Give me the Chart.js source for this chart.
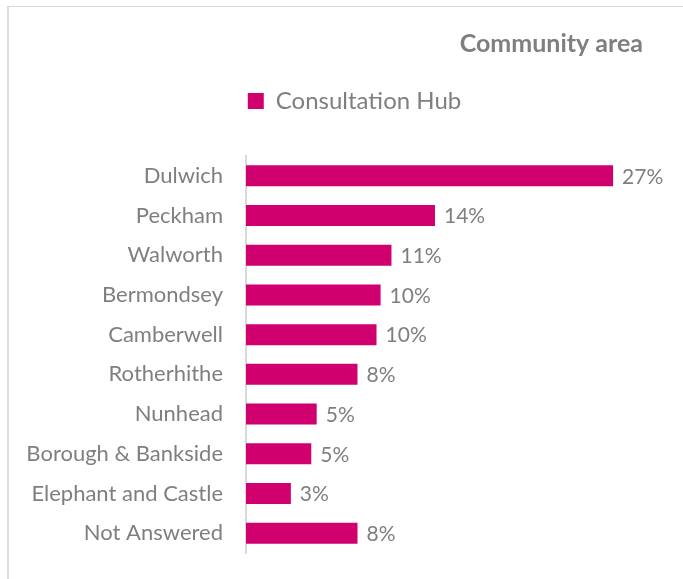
<!DOCTYPE html>
<html>
<head>
<meta charset="utf-8">
<script src="https://cdn.jsdelivr.net/npm/chart.js@4/dist/chart.umd.min.js"></script>
<style>
  html, body { margin: 0; padding: 0; background: #fff; }
  .wrap { position: relative; width: 683px; height: 579px; overflow: hidden; }
  .frame { position: absolute; left: 7px; top: 6px; width: 700px; height: 600px;
           border-top: 1px solid #d9d9d9; border-left: 2px solid #dedede; }
  canvas { position: absolute; left: 0; top: 0; }
</style>
</head>
<body>
<div class="wrap">
  <div class="frame"></div>
  <canvas id="chart" width="683" height="579"></canvas>
</div>
<script>
const areas = ['Dulwich', 'Peckham', 'Walworth', 'Bermondsey', 'Camberwell',
  'Rotherhithe', 'Nunhead', 'Borough & Bankside', 'Elephant and Castle', 'Not Answered']
// share of responses, percent
const hubShare = [27.0, 13.9, 10.7, 9.9, 9.6, 8.2, 5.2, 4.8, 3.3, 8.2]

const FONT = 'Lato, "Open Sans", sans-serif'
const GREY = '#7f7f7f'

// value labels to the right of each bar
var barValues = {
  id: 'barValues',
  afterDatasetsDraw: function (chart) {
    const ctx = chart.ctx
    ctx.save()
    ctx.font = '21px ' + FONT
    ctx.fillStyle = GREY
    ctx.textBaseline = 'middle'
    ctx.textAlign = 'left'
    chart.getDatasetMeta(0).data.forEach((bar, i) => {
      ctx.fillText(Math.round(hubShare[i]) + '%', bar.x + 9, bar.y + 1)
    })
    ctx.restore()
  }
}

// legend: extra room below it and nudged right over the bars
var legendPlace = {
  id: 'legendPlace',
  beforeInit: function (chart) {
    const fit = chart.legend.fit
    chart.legend.fit = function () {
      fit.bind(chart.legend)()
      this.height += 33
    }
  },
  afterLayout: function (chart) {
    chart.legend.left += 28
    chart.legend.right += 28
  }
}

new Chart(document.getElementById('chart').getContext('2d'), {
  type: 'bar',
  data: {
    labels: areas,
    datasets: [{
      label: 'Consultation Hub',
      data: hubShare,
      backgroundColor: '#d0006f',
      borderWidth: 0,
      categoryPercentage: 1,
      barPercentage: 0.53
    }]
  },
  options: {
    indexAxis: 'y',
    responsive: false,
    animation: false,
    layout: {
      padding: { top: 20, left: 10, right: 40, bottom: 26 }
    },
    scales: {
      x: {
        display: false,
        min: 0,
        max: 29.2
      },
      y: {
        grid: { display: false, drawTicks: false },
        border: { color: '#d9d9d9', width: 2 },
        ticks: {
          color: GREY,
          padding: 23,
          font: { family: FONT, size: 22 }
        },
        afterFit: function (scale) {
          scale.width = 236
          scale.paddingTop = 0
          scale.paddingBottom = 0
        }
      }
    },
    plugins: {
      title: {
        display: true,
        text: 'Community area',
        align: 'end',
        color: GREY,
        font: { family: FONT, size: 25, weight: 'bold' },
        padding: { top: 9, bottom: 8 }
      },
      legend: {
        position: 'top',
        labels: {
          color: GREY,
          boxWidth: 16,
          boxHeight: 16,
          padding: 22,
          font: { family: FONT, size: 24 }
        }
      },
      tooltip: { enabled: false }
    }
  },
  plugins: [barValues, legendPlace]
})
</script>
</body>
</html>
